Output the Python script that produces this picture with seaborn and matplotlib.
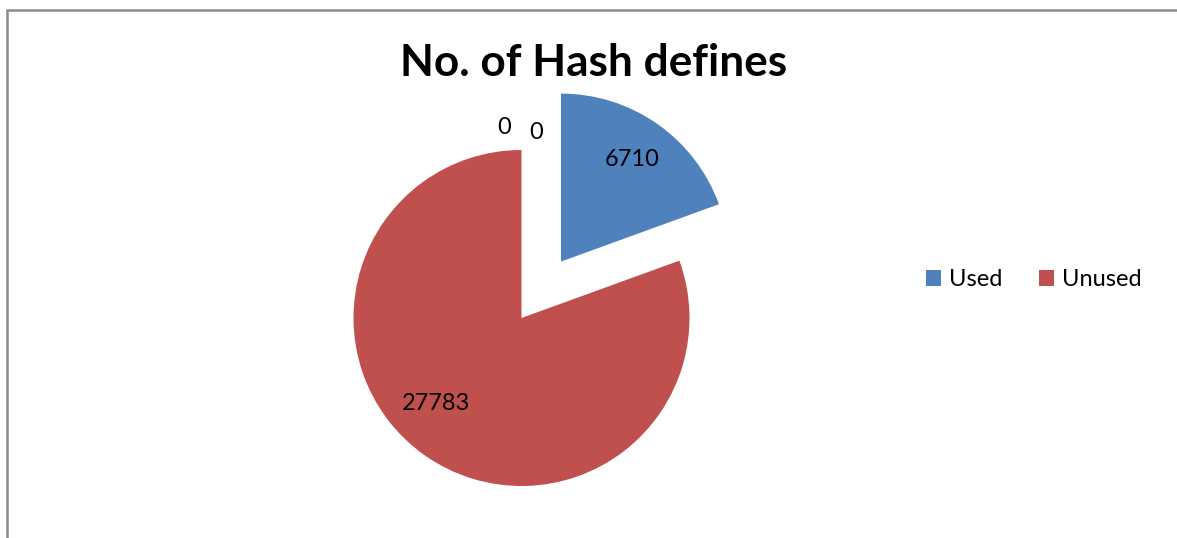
import matplotlib
matplotlib.use("Agg")
import matplotlib.pyplot as plt
import seaborn as sns
from matplotlib.patches import Rectangle, Patch

# Chart data
categories = ["Used", "Unused"]
values = [6710, 27783]
zero_values = [0, 0]
title = "No. of Hash defines"

sns.set_theme(style="white")
plt.rcParams["font.family"] = ["Lato", "DejaVu Sans"]
plt.rcParams["text.color"] = "black"
colors = sns.color_palette(["#4F81BD", "#C0504D"])

W, H, DPI = 1177, 538, 100
fig = plt.figure(figsize=(W / DPI, H / DPI), dpi=DPI)
fig.patch.set_facecolor("white")
ax = fig.add_axes([0, 0, 1, 1])

R = 168.0            # pixels per unit radius
cx, cy = 521.5, 318  # pie centre, pixels from top-left

total = sum(values)
wedges, texts, autotexts = ax.pie(
    values,
    colors=colors,
    startangle=90,
    counterclock=False,
    explode=[0.41, 0],
    autopct=lambda p: f"{p * total / 100:.0f}",
    pctdistance=0.74,
    textprops=dict(fontsize=17, color="black"),
    wedgeprops=dict(linewidth=0),
)
# place the large slice label lower-left as in the spreadsheet layout
autotexts[1].set_position((-0.51, -0.51))

# labels of the two empty categories, sitting above the pie
ax.text(-0.104, 1.131, f"{zero_values[0]}", ha="center", va="center",
        fontsize=17, color="black")
ax.text(0.086, 1.107, f"{zero_values[1]}", ha="center", va="center",
        fontsize=17, color="black")

ax.set_xlim(-cx / R, (W - cx) / R)
ax.set_ylim(-(H - cy) / R, cy / R)
ax.set_aspect("auto")
ax.axis("off")

fig.text(594 / W, 1 - 63 / H, title, ha="center", va="center",
         fontsize=31.8, fontweight="bold", color="black")

handles = [Patch(facecolor=c, edgecolor="none") for c in colors]
fig.legend(handles, categories, loc="center left",
           bbox_to_anchor=(926 / W, 1 - 279.5 / H), ncol=2, frameon=False,
           fontsize=17, handlelength=0.64, handleheight=0.64,
           handletextpad=0.34, columnspacing=1.55,
           borderpad=0, borderaxespad=0, labelcolor="black")

# chart area border
fig.add_artist(Rectangle((7 / W, -0.5), 2, (1 - 10 / H) + 0.5,
                         transform=fig.transFigure, fill=False,
                         edgecolor="#8a8a8a", linewidth=1.8))

fig.savefig("out.png", dpi=DPI)
